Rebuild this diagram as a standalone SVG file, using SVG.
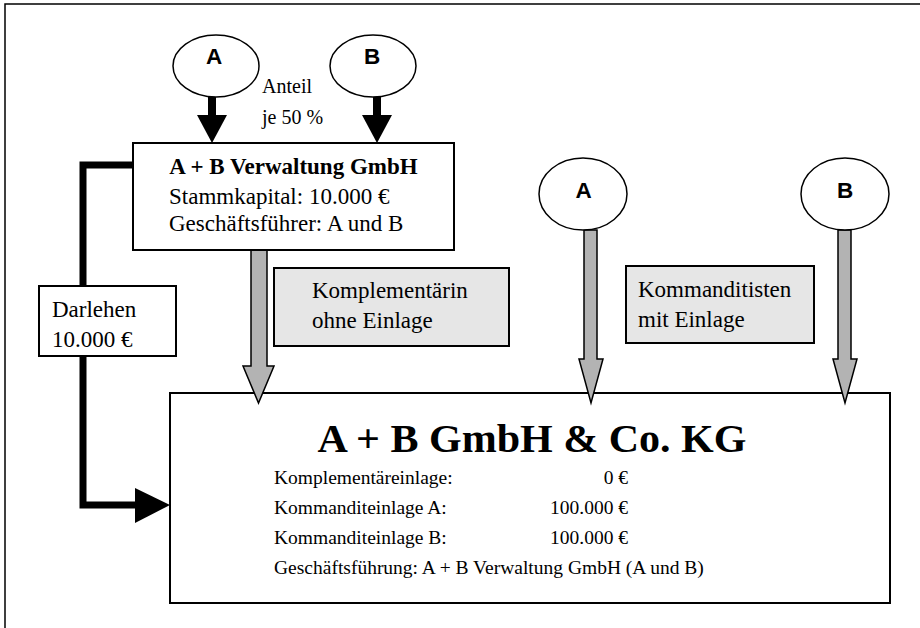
<svg xmlns="http://www.w3.org/2000/svg" width="920" height="628" viewBox="0 0 920 628">
<style>
.box{fill:#fff;stroke:#000;stroke-width:2}
.gbox{fill:#e6e6e6;stroke:#000;stroke-width:2}
.ell{fill:#fff;stroke:#000;stroke-width:1.5}
.serif{font-family:"Liberation Serif","Times New Roman",serif;fill:#000}
.sans{font-family:"Liberation Sans",Arial,sans-serif;font-weight:bold;fill:#000;font-size:22.5px;text-anchor:middle}
.garrow{fill:#b3b3b3;stroke:#000;stroke-width:1.5;stroke-linejoin:miter}
.barrow{fill:#000;stroke:none}
</style>
<rect x="0" y="0" width="920" height="628" fill="#fff"/>
<rect x="5" y="4" width="930" height="640" fill="none" stroke="#000" stroke-width="1.5"/>

<g id="kg">
  <rect class="box" x="170" y="393" width="720" height="210"/>
  <text class="serif" x="532" y="452" font-size="40" font-weight="bold" text-anchor="middle" textLength="429" lengthAdjust="spacingAndGlyphs">A + B GmbH &amp; Co. KG</text>
  <g class="serif" font-size="19.5">
    <text x="274" y="484">Komplementäreinlage:</text>
    <text x="628" y="484" text-anchor="end">0 €</text>
    <text x="274" y="514">Kommanditeinlage A:</text>
    <text x="628" y="514" text-anchor="end">100.000 €</text>
    <text x="274" y="544">Kommanditeinlage B:</text>
    <text x="628" y="544" text-anchor="end">100.000 €</text>
    <text x="274" y="574">Geschäftsführung: A + B Verwaltung GmbH (A und B)</text>
  </g>
</g>

<g id="connectors">
  <rect class="barrow" x="208" y="96" width="8" height="20"/>
  <polygon class="barrow" points="197,115 227,115 212,143"/>
  <rect class="barrow" x="373" y="96" width="8" height="20"/>
  <polygon class="barrow" points="362,115 392,115 377,143"/>
  <polyline points="133,165 83,165 83,505 137,505" fill="none" stroke="#000" stroke-width="7" stroke-linejoin="miter"/>
  <polygon class="barrow" points="135,488 170,505 135,523"/>
  <polygon class="garrow" points="251,250 267,250 267,366 274,366 258.5,403 243,366 251,366"/>
  <polygon class="garrow" points="584,230 597,230 597,359 603,359 591,403 579,359 584,359"/>
  <polygon class="garrow" points="838,230 851,230 851,359 857,359 845,403 833,359 838,359"/>
</g>

<g id="gesellschafter-a-top">
  <ellipse class="ell" cx="216" cy="66" rx="43" ry="31"/>
  <text class="sans" x="214" y="64">A</text>
</g>
<g id="gesellschafter-b-top">
  <ellipse class="ell" cx="373" cy="66" rx="43" ry="31"/>
  <text class="sans" x="372" y="64">B</text>
</g>
<g id="anteil-label">
  <text class="serif" x="262" y="93" font-size="20">Anteil</text>
  <text class="serif" x="262" y="124" font-size="20">je 50 %</text>
</g>

<g id="verwaltung">
  <rect class="box" x="133" y="143" width="321" height="107"/>
  <text class="serif" x="293.5" y="174" font-size="23" font-weight="bold" text-anchor="middle">A + B Verwaltung GmbH</text>
  <text class="serif" x="169" y="204" font-size="23">Stammkapital: 10.000 €</text>
  <text class="serif" x="169" y="231" font-size="23">Geschäftsführer: A und B</text>
</g>

<g id="darlehen">
  <rect class="box" x="39" y="286" width="137" height="70"/>
  <text class="serif" x="52" y="317" font-size="23">Darlehen</text>
  <text class="serif" x="52" y="347" font-size="23">10.000 €</text>
</g>

<g id="komplementaerin">
  <rect class="gbox" x="274" y="268" width="235" height="78"/>
  <text class="serif" x="312" y="298" font-size="23">Komplementärin</text>
  <text class="serif" x="312" y="328" font-size="23">ohne Einlage</text>
</g>

<g id="kommanditisten">
  <rect class="gbox" x="626" y="266" width="188" height="77"/>
  <text class="serif" x="638" y="297" font-size="23">Kommanditisten</text>
  <text class="serif" x="638" y="327" font-size="23">mit Einlage</text>
</g>

<g id="kommanditist-a">
  <ellipse class="ell" cx="583" cy="194" rx="44" ry="36"/>
  <text class="sans" x="583.5" y="198">A</text>
</g>
<g id="kommanditist-b">
  <ellipse class="ell" cx="845" cy="194" rx="44" ry="36"/>
  <text class="sans" x="845" y="198">B</text>
</g>
</svg>
